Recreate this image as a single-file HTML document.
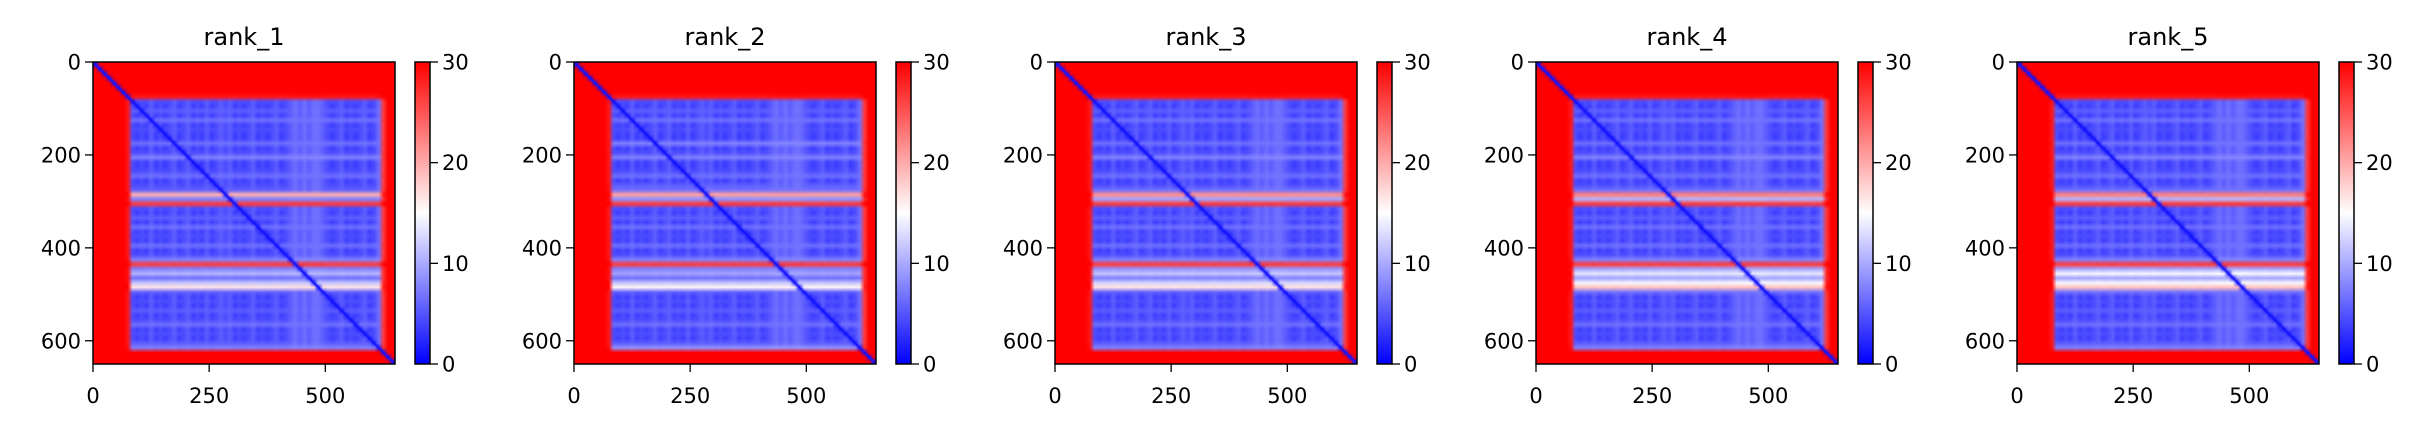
<!DOCTYPE html>
<html><head><meta charset="utf-8">
<style>
html,body{margin:0;padding:0;background:#fff;}
#root{position:relative;width:2428px;height:432px;overflow:hidden;background:#fff;font-family:"DejaVu Sans","Liberation Sans",sans-serif;}
canvas{position:absolute;}
svg{position:absolute;left:0;top:0;}
</style></head>
<body>
<div id="root">
<svg id="ov" width="2428" height="432"></svg>
</div>
<script>
// Panel titles
const titles = ["rank_1","rank_2","rank_3","rank_4","rank_5"];
// Axis tick labels
const yTicks = [0,200,400,600];
const xTicks = [0,250,500];
const cbTicks = [0,10,20,30];
const nRes = 650;
const vmax = 30;
// Row error profiles (one value per 10 residues, 65 entries) per panel
const rows1 = [30,30,30,30,30,30,30,28, 4, 3,5,3,6,3,4,3,3,6,3,4,7,3,3,4,6,3,4,5, 19,7,26, 4,3,5,3,6,3,4,3,6,3,4, 7,26,7,10,6,11,16,5, 3,4,3,5,3,4,6,3,4,3,5,7, 30,30,30];
const rows2 = [30,30,30,30,30,30,30,28, 4, 3,5,3,6,3,4,3,3,7,3,4,7,3,3,4,6,3,5,6, 20,8,26, 4,3,5,3,6,3,4,3,6,3,4, 7,26,7,9,6,11,15,5, 3,4,3,5,3,4,6,3,4,3,5,8, 30,30,30];
const rows3 = [30,30,30,30,30,30,30,28, 4, 3,5,3,6,3,4,3,3,6,3,4,7,3,3,4,6,3,4,6, 21,9,26, 4,3,5,3,6,3,4,3,6,3,4, 7,26,8,11,7,12,16,5, 3,4,3,5,3,4,6,3,4,3,5,7, 30,30,30];
const rows4 = [30,30,30,30,30,30,30,28, 4, 3,5,3,6,3,4,3,3,6,3,4,7,3,3,4,6,3,4,6, 22,10,26, 4,3,5,3,6,3,4,3,6,3,4, 7,26,9,13,9,14,18,6, 3,4,3,5,3,4,6,3,4,3,5,7, 30,30,30];
const rows5 = [30,30,30,30,30,30,30,28, 4, 3,5,3,6,3,4,3,3,6,3,4,7,3,3,4,6,3,4,6, 22,10,26, 4,3,5,3,6,3,4,3,6,3,4, 7,26,9,14,9,14,18,6, 3,4,3,5,3,4,6,3,4,3,5,7, 30,30,30];
// Column error profile (65 entries)
const cols = [30,30,30,30,30,30,30,28, 4, 3,4,3,5,3,4,3,4,5,3,4,5,3,4,3,5,3,4,5,4,5,3, 4,3,4,5,3,4,3,4,5,3,4, 5,6,5,6,5,6,6,5, 4,3,4,5,3,4,3,4,5,3,4,6, 26,30,30];
const panelRows = [rows1,rows2,rows3,rows4,rows5];

const P0 = 93, DX = 481, TOP = 62, SZ = 302, CBX = 322, CBW = 15;
const sx = v => SZ * v / nRes;
const cb = v => TOP + SZ - SZ * v / vmax;
function bwr(v){
  const t = Math.max(0, Math.min(1, v / vmax));
  if (t < 0.5){ const a = t/0.5; return [Math.round(255*a), Math.round(255*a), 255]; }
  const a = (t-0.5)/0.5; return [255, Math.round(255*(1-a)), Math.round(255*(1-a))];
}
const root = document.getElementById('root');
const ov = document.getElementById('ov');
const NS = 'http://www.w3.org/2000/svg';
function mk(tag, attrs, name){
  const e = document.createElementNS(NS, tag);
  for (const k in attrs) e.setAttribute(k, attrs[k]);
  
  
  ov.appendChild(e); return e;
}
function txt(x, y, s, anchor, size, name){
  const t = mk('text', {x:x, y:y, 'text-anchor':anchor, 'font-size':size, fill:'#000', 'font-family':'DejaVu Sans, Liberation Sans, sans-serif'}, name);
  t.textContent = s; return t;
}
panelRows.forEach((rows, p) => {
  const x0 = P0 + p*DX;
  const n = rows.length;
  const small = document.createElement('canvas');
  small.width = n; small.height = n;
  const sc = small.getContext('2d');
  const img = sc.createImageData(n, n);
  for (let i=0;i<n;i++) for (let j=0;j<n;j++){
    const r = rows[i], c = cols[j];
    let v = Math.min(vmax, Math.max(r,c) + 0.15*Math.min(r,c));
    if (i===j) v = 1;
    const col = bwr(v); const k = (i*n+j)*4;
    img.data[k]=col[0]; img.data[k+1]=col[1]; img.data[k+2]=col[2]; img.data[k+3]=255;
  }
  sc.putImageData(img,0,0);
  const cv = document.createElement('canvas');
  cv.width = SZ; cv.height = SZ;
  cv.style.left = x0+'px'; cv.style.top = TOP+'px';
  
  
  const ctx = cv.getContext('2d');
  ctx.imageSmoothingEnabled = true;
  ctx.drawImage(small, 0, 0, SZ, SZ);
  ctx.strokeStyle = 'rgb(20,20,255)'; ctx.lineWidth = 2;
  ctx.beginPath(); ctx.moveTo(0,0); ctx.lineTo(SZ,SZ); ctx.stroke();
  root.insertBefore(cv, ov);
  // colorbar
  const cbc = document.createElement('canvas');
  cbc.width = CBW; cbc.height = SZ;
  cbc.style.left = (x0+CBX)+'px'; cbc.style.top = TOP+'px';
  
  
  const g = cbc.getContext('2d');
  const gr = g.createLinearGradient(0, SZ, 0, 0);
  gr.addColorStop(0,'rgb(0,0,255)'); gr.addColorStop(0.5,'rgb(255,255,255)'); gr.addColorStop(1,'rgb(255,0,0)');
  g.fillStyle = gr; g.fillRect(0,0,CBW,SZ);
  root.insertBefore(cbc, ov);

  mk('rect', {x:x0, y:TOP, width:SZ, height:SZ, fill:'none', stroke:'#000', 'stroke-width':1.5}, 'heatmap-frame-' + (p+1));
  mk('rect', {x:x0+CBX, y:TOP, width:CBW, height:SZ, fill:'none', stroke:'#000', 'stroke-width':1.5}, 'colorbar-frame-' + (p+1));
  txt(x0+SZ/2, 45, titles[p], 'middle', 24, 'panel-title-' + (p+1));
  yTicks.forEach(v => {
    const y = TOP + sx(v);
    mk('line', {x1:x0-8, y1:y, x2:x0, y2:y, stroke:'#000', 'stroke-width':1.3}, 'y-tick');
    txt(x0-12, y+7.5, String(v), 'end', 21, 'y-tick-label');
  });
  xTicks.forEach(v => {
    const x = x0 + sx(v);
    mk('line', {x1:x, y1:TOP+SZ, x2:x, y2:TOP+SZ+8, stroke:'#000', 'stroke-width':1.3}, 'x-tick');
    txt(x, 403, String(v), 'middle', 21, 'x-tick-label');
  });
  cbTicks.forEach(v => {
    const y = cb(v);
    mk('line', {x1:x0+CBX+CBW, y1:y, x2:x0+CBX+CBW+8, y2:y, stroke:'#000', 'stroke-width':1.3}, 'colorbar-tick');
    txt(x0+CBX+CBW+12, y+7.5, String(v), 'start', 21, 'colorbar-tick-label');
  });
});
</script>
</body></html>
